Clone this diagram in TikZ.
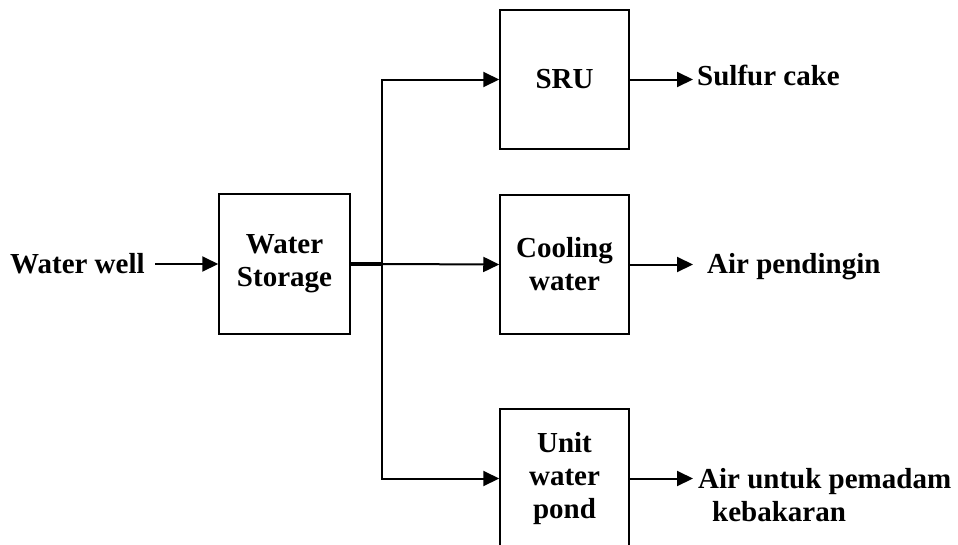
\documentclass[tikz,border=0pt]{standalone}
\usepackage{fontspec}
\setmainfont{Liberation Serif}
\usetikzlibrary{arrows.meta}
\begin{document}
\begin{tikzpicture}[x=1pt,y=-1pt,
  every node/.style={font=\fontsize{29}{33}\selectfont\bfseries},
  procbox/.style={draw,line width=1.5pt,minimum width=129pt,minimum height=139pt,align=center,inner sep=0pt},
  lbl/.style={anchor=base west,inner sep=0pt,align=left},
  conn/.style={line width=2pt},
  arr/.style={conn,-{Triangle[length=16pt,width=15pt]}}]
\useasboundingbox (0,0) rectangle (958,544);
% boxes
\node[procbox,minimum width=131pt,minimum height=140pt] (ws) at (284.5,264) {Water\\Storage};
\node[procbox] (sru) at (564.5,79.5) {SRU};
\node[procbox] (cw) at (564.5,264.5) {Cooling\\water};
\node[procbox] (unit) at (564.5,478.5) {Unit\\water\\pond};
% labels
\node[lbl] (ww) at (10,273) {Water well};
\node[lbl] (sc) at (697,85) {Sulfur cake};
\node[lbl] (ap) at (707,273) {Air pendingin};
\node[lbl] (au) at (698,488) {Air untuk pemadam};
\node[lbl] (kb) at (712,521) {kebakaran};
% coordinates
\coordinate (ws0) at (155,264);
\coordinate (J) at (382,264);
\coordinate (t1) at (693,79.5);
\coordinate (t2) at (693,264.5);
\coordinate (t3) at (693,478.5);
% connectors
\draw[arr] (ws0) -- (ws.west);
\draw[line width=3.5pt] (ws.east |- J) -- (J);
\draw[arr] (J) -- (cw.west);
\draw[arr] (J) |- (sru.west);
\draw[arr] (J) |- (unit.west);
\draw[arr] (sru.east) -- (t1);
\draw[arr] (cw.east) -- (t2);
\draw[arr] (unit.east) -- (t3);
\end{tikzpicture}
\end{document}
